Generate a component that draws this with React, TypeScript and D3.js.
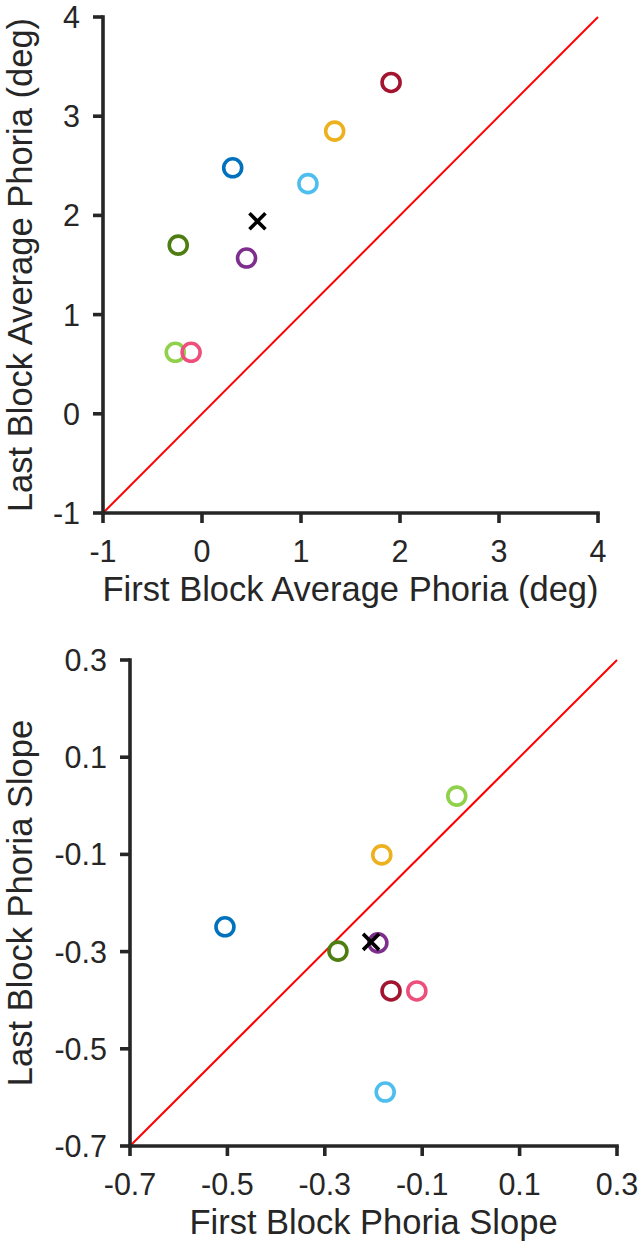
import React, { useEffect, useRef } from "react";
import * as d3 from "d3";

const colors = ["#0072BD", "#EDB120", "#7E2F8E", "#4E7D12", "#8FD14A", "#4DBEEE", "#A2142F", "#EE4F7A"];

// Top panel: average phoria (deg)
const firstAvg = [0.31, 1.34, 0.45, -0.24, -0.27, 1.07, 1.91, -0.11];
const lastAvg = [2.48, 2.85, 1.57, 1.7, 0.62, 2.32, 3.34, 0.62];
const meanAvg = [0.56, 1.94];
const avgTicks = [-1, 0, 1, 2, 3, 4];

// Bottom panel: phoria slope
const firstSlope = [-0.505, -0.183, -0.191, -0.273, -0.029, -0.176, -0.164, -0.111];
const lastSlope = [-0.249, -0.101, -0.282, -0.299, 0.02, -0.589, -0.381, -0.381];
const meanSlope = [-0.205, -0.28];
const slopeTicks = [-0.7, -0.5, -0.3, -0.1, 0.1, 0.3];

const FONT = "'Liberation Sans', Arial, Helvetica, sans-serif";
const AXIS_COLOR = "#262626";
const TICK_FS = 30.5;
const TITLE_FS = 34.5;

type PanelCfg = {
  left: number; right: number; top: number; bottom: number;
  domain: [number, number];
  ticks: number[];
  fmt: (v: number) => string;
  xs: number[]; ys: number[]; mean: number[];
  xTitle: string; yTitle: string;
};

function drawPanel(svg: d3.Selection<SVGSVGElement, unknown, null, undefined>, c: PanelCfg) {
  const x = d3.scaleLinear().domain(c.domain).range([c.left, c.right]);
  const y = d3.scaleLinear().domain(c.domain).range([c.bottom, c.top]);
  const g = svg.append("g");

  // identity line
  g.append("line")
    .attr("x1", x(c.domain[0])).attr("y1", y(c.domain[0]))
    .attr("x2", x(c.domain[1])).attr("y2", y(c.domain[1]))
    .attr("stroke", "#FF0000").attr("stroke-width", 2);

  // axes lines
  g.append("line")
    .attr("x1", c.left).attr("x2", c.right).attr("y1", c.bottom).attr("y2", c.bottom)
    .attr("stroke", AXIS_COLOR).attr("stroke-width", 3.6).attr("stroke-linecap", "square");
  g.append("line")
    .attr("x1", c.left).attr("x2", c.left).attr("y1", c.top).attr("y2", c.bottom)
    .attr("stroke", AXIS_COLOR).attr("stroke-width", 3.6).attr("stroke-linecap", "square");

  const tickLen = 10;
  c.ticks.forEach((t) => {
    g.append("line")
      .attr("x1", x(t)).attr("x2", x(t)).attr("y1", c.bottom).attr("y2", c.bottom + tickLen)
      .attr("stroke", AXIS_COLOR).attr("stroke-width", 3.6);
    g.append("line")
      .attr("x1", c.left - tickLen).attr("x2", c.left).attr("y1", y(t)).attr("y2", y(t))
      .attr("stroke", AXIS_COLOR).attr("stroke-width", 3.6);
    g.append("text")
      .attr("x", x(t)).attr("y", c.bottom + 49)
      .attr("text-anchor", "middle")
      .attr("font-family", FONT).attr("font-size", TICK_FS).attr("fill", AXIS_COLOR)
      .text(c.fmt(t));
    g.append("text")
      .attr("x", c.left - 23).attr("y", y(t) + TICK_FS * 0.36)
      .attr("text-anchor", "end")
      .attr("font-family", FONT).attr("font-size", TICK_FS).attr("fill", AXIS_COLOR)
      .text(c.fmt(t));
  });

  g.append("text")
    .attr("x", (c.left + c.right) / 2).attr("y", c.bottom + 88)
    .attr("text-anchor", "middle")
    .attr("font-family", FONT).attr("font-size", TITLE_FS).attr("fill", AXIS_COLOR)
    .text(c.xTitle);
  g.append("text")
    .attr("transform", `translate(32,${(c.top + c.bottom) / 2}) rotate(-90)`)
    .attr("text-anchor", "middle")
    .attr("font-family", FONT).attr("font-size", TITLE_FS).attr("fill", AXIS_COLOR)
    .text(c.yTitle);

  // points
  c.xs.forEach((v, i) => {
    g.append("circle")
      .attr("cx", x(v)).attr("cy", y(c.ys[i])).attr("r", 9)
      .attr("fill", "none").attr("stroke", colors[i]).attr("stroke-width", 3.6);
  });

  // mean marker (x)
  const mx = x(c.mean[0]);
  const my = y(c.mean[1]);
  const s = 8;
  g.append("path")
    .attr("d", `M${mx - s},${my - s}L${mx + s},${my + s}M${mx - s},${my + s}L${mx + s},${my - s}`)
    .attr("stroke", "#000").attr("stroke-width", 3.6).attr("fill", "none");
}

export default function App() {
  const ref = useRef<SVGSVGElement>(null);
  useEffect(() => {
    const svg = d3.select(ref.current as SVGSVGElement);
    svg.selectAll("*").remove();
    drawPanel(svg, {
      left: 103, right: 598, top: 17, bottom: 513,
      domain: [-1, 4], ticks: avgTicks, fmt: (v) => String(v),
      xs: firstAvg, ys: lastAvg, mean: meanAvg,
      xTitle: "First Block Average Phoria (deg)", yTitle: "Last Block Average Phoria (deg)",
    });
    drawPanel(svg, {
      left: 130, right: 617, top: 660, bottom: 1146,
      domain: [-0.7, 0.3], ticks: slopeTicks, fmt: (v) => String(+v.toFixed(1)),
      xs: firstSlope, ys: lastSlope, mean: meanSlope,
      xTitle: "First Block Phoria Slope", yTitle: "Last Block Phoria Slope",
    });
  }, []);
  return (
    <svg
      ref={ref}
      width={640}
      height={1243}
      style={{ position: "absolute", left: 0, top: 0, background: "#fff" }}
    />
  );
}
